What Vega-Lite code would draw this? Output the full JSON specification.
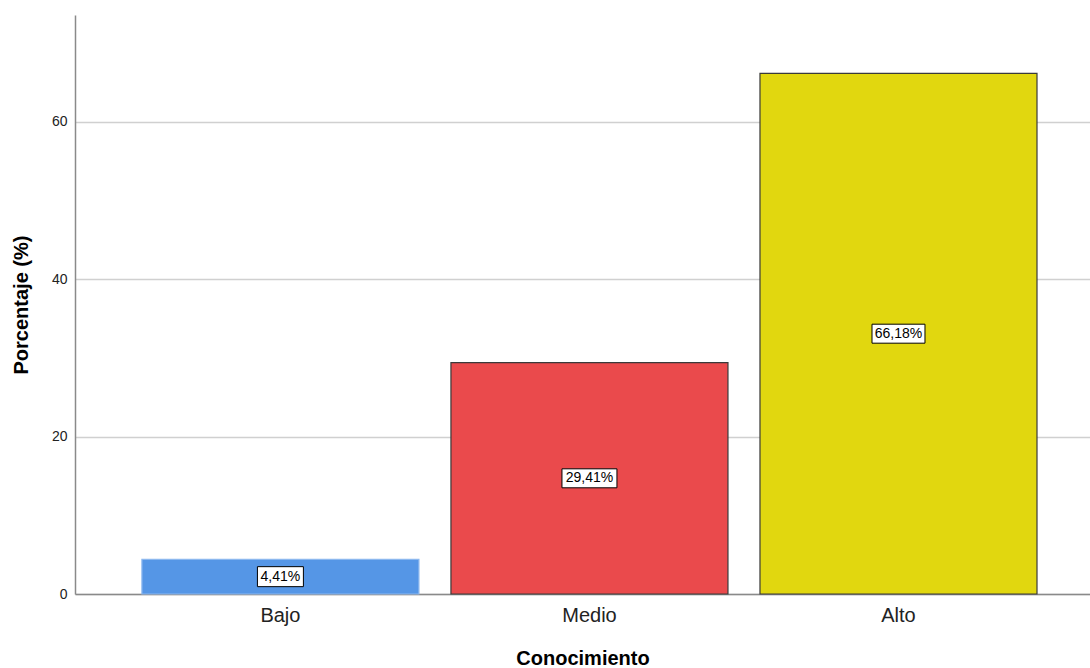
{
  "$schema": "https://vega.github.io/schema/vega-lite/v6.json",
  "width": 1015,
  "height": 579,
  "autosize": "none",
  "padding": {"left": 75, "top": 15, "right": 0, "bottom": 74},
  "background": "white",
  "config": {
    "view": {"stroke": null},
    "font": "Liberation Sans"
  },
  "data": {
    "values": [
      {"Conocimiento": "Bajo", "Porcentaje": 4.41, "label": "4,41%"},
      {"Conocimiento": "Medio", "Porcentaje": 29.41, "label": "29,41%"},
      {"Conocimiento": "Alto", "Porcentaje": 66.18, "label": "66,18%"}
    ]
  },
  "encoding": {
    "x": {
      "field": "Conocimiento",
      "type": "nominal",
      "sort": ["Bajo", "Medio", "Alto"],
      "scale": {"paddingInner": 0.1036, "paddingOuter": 0.194, "align": 0.558},
      "axis": {
        "title": "Conocimiento",
        "titleFont": "Liberation Sans",
        "titleFontSize": 20,
        "titleFontWeight": "bold",
        "titleColor": "#000000",
        "titlePadding": 23,
        "labelAngle": 0,
        "labelFontSize": 20,
        "labelColor": "#222222",
        "labelPadding": 11,
        "ticks": false,
        "domainColor": "#8a8a8a",
        "domainWidth": 1.5,
        "grid": false
      }
    }
  },
  "layer": [
    {
      "mark": {"type": "bar", "strokeWidth": 1.2},
      "encoding": {
        "y": {
          "field": "Porcentaje",
          "type": "quantitative",
          "scale": {"domain": [0, 73.6], "nice": false},
          "axis": {
            "title": "Porcentaje (%)",
            "titleFontSize": 20,
            "titleFontWeight": "bold",
            "titleColor": "#000000",
            "titlePadding": 20,
            "values": [0, 20, 40, 60],
            "labelFontSize": 14,
            "labelColor": "#222222",
            "labelPadding": 8,
            "ticks": false,
            "domainColor": "#8a8a8a",
            "domainWidth": 1.5,
            "gridColor": "#d0d0d0",
            "gridWidth": 1.5
          }
        },
        "fill": {
          "field": "Conocimiento",
          "type": "nominal",
          "scale": {"domain": ["Bajo", "Medio", "Alto"], "range": ["#5596e6", "#ea4a4c", "#e1d70f"]},
          "legend": null
        },
        "stroke": {
          "field": "Conocimiento",
          "type": "nominal",
          "scale": {"domain": ["Bajo", "Medio", "Alto"], "range": ["#8cb8ef", "#3a3a3a", "#3a3a3a"]},
          "legend": null
        }
      }
    },
    {
      "transform": [{"calculate": "datum.Porcentaje / 2", "as": "mid"}],
      "mark": {"type": "point", "filled": true, "fill": "white", "stroke": "#000000", "strokeWidth": 1, "opacity": 1, "size": 3136},
      "encoding": {
        "y": {"field": "mid", "type": "quantitative"},
        "shape": {
          "field": "Conocimiento",
          "type": "nominal",
          "scale": {
            "domain": ["Bajo", "Medio", "Alto"],
            "range": ["M-0.821,-0.357H0.821V0.357H-0.821Z", "M-0.982,-0.339H0.982V0.339H-0.982Z", "M-0.946,-0.339H0.946V0.339H-0.946Z"]
          },
          "legend": null
        }
      }
    },
    {
      "transform": [{"calculate": "datum.Porcentaje / 2", "as": "mid"}],
      "mark": {"type": "text", "fontSize": 14, "color": "#000000", "baseline": "middle", "align": "center"},
      "encoding": {
        "y": {"field": "mid", "type": "quantitative"},
        "text": {"field": "label"}
      }
    }
  ]
}
